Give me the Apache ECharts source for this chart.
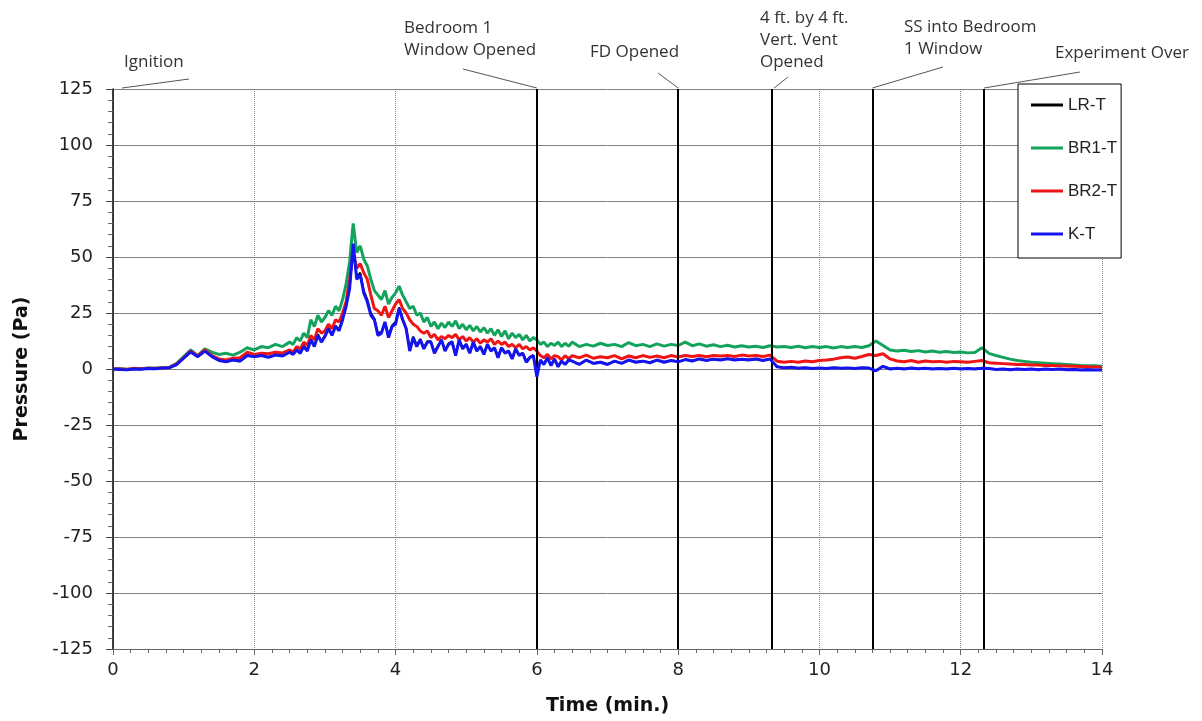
<!DOCTYPE html>
<html><head><meta charset="utf-8">
<script src="https://cdn.jsdelivr.net/npm/echarts@6.0.0/dist/echarts.min.js"></script>
<style>html,body{margin:0;padding:0;background:#fff}#c{width:1202px;height:721px}</style>
</head><body><div id="c"></div>
<script>
// time in minutes (finer sampling through the noisy 2.5 - 6.5 min stretch)
const time = [
0,0.1,0.2,0.3,0.4,0.5,0.6,0.7,0.8,0.9,
1,1.1,1.2,1.3,1.4,1.5,1.6,1.7,1.8,1.9,
2,2.1,2.2,2.3,2.4,
2.5,2.55,2.6,2.65,2.7,2.75,2.8,2.85,2.9,2.95,
3,3.05,3.1,3.15,3.2,3.25,3.3,3.35,3.4,3.45,
3.5,3.55,3.6,3.65,3.7,3.75,3.8,3.85,3.9,3.95,
4,4.05,4.1,4.15,4.2,4.25,4.3,4.35,4.4,4.45,
4.5,4.55,4.6,4.65,4.7,4.75,4.8,4.85,4.9,4.95,
5,5.05,5.1,5.15,5.2,5.25,5.3,5.35,5.4,5.45,
5.5,5.55,5.6,5.65,5.7,5.75,5.8,5.85,5.9,5.95,
6,6.05,6.1,6.15,6.2,6.25,6.3,6.35,6.4,6.45,
6.5,
6.6,6.7,6.8,6.9,
7,7.1,7.2,7.3,7.4,7.5,7.6,7.7,7.8,7.9,
8,8.1,8.2,8.3,8.4,8.5,8.6,8.7,8.8,8.9,
9,9.1,9.2,9.3,9.4,9.5,9.6,9.7,9.8,9.9,
10,10.1,10.2,10.3,10.4,10.5,10.6,10.7,10.8,10.9,
11,11.1,11.2,11.3,11.4,11.5,11.6,11.7,11.8,11.9,
12,12.1,12.2,12.3,12.4,12.5,12.6,12.7,12.8,12.9,
13,13.1,13.2,13.3,13.4,13.5,13.6,13.7,13.8,13.9,
14];

const lrT = [
0,-0.1,-0.2,0.1,0,0.2,0.2,0.4,0.6,2.1,
4.9,7.7,5.6,8,5.6,4,3.4,4.2,3.8,6.2,
5.6,6.2,5.4,6.4,6,
7.6,6.8,8.8,7.4,10.4,8.5,13.4,10.5,15.5,12.5,
15,18.4,15.5,19.4,17.6,22.5,28.5,36.5,55,41,
43,35,31,25,22.5,16,16.5,21,15,19.4,
21,27.5,22.5,18.5,9,14.5,10.6,13.4,9.6,12.4,
12.4,7.6,10.4,13,8.6,11.4,12.4,6.6,13,9.4,
11.2,7.6,12,8.4,10.2,7,11,8.4,9.6,5.6,
9.6,7.4,8.2,5,9,6.4,7.2,3.6,5.4,6.2,
-2,4,2.2,5,1.8,4.5,1.3,3.6,2.2,4,
3.6,
2.2,4,2.6,3.2,
2.2,3.6,2.6,4,3.1,3.6,2.9,4,3.1,3.8,
3.3,4.2,3.7,4.5,3.9,4.4,4.1,4.6,4.1,4.4,
4.1,4.5,3.9,4.5,1.1,0.6,0.8,0.4,0.6,0.3,
0.5,0.3,0.6,0.4,0.5,0.3,0.6,0.4,-0.6,1.1,
0.1,0.3,0.1,0.4,0.1,0.3,0.1,0.2,0.1,0.3,
0.1,0.2,0.1,0.3,0.2,-0.1,0,-0.2,0,-0.1,
0,-0.2,0,-0.1,0,-0.2,-0.1,-0.3,-0.2,-0.4,
-0.4];

const br1T = [
0,0.2,-0.2,0.3,0.1,0.4,0.3,0.6,0.8,2.5,
5.5,8.5,6,9,7.5,6.5,7,6.2,7.5,9.5,
8.5,10,9.5,11,10,
12,11,14,12.5,16,14,22,19,24,21,
23,26,24,28,26,31,38,48,65,52,
55,49,46,40,35,33,31,35,29,32,
34,37,33,30,27,28,24,25,21,23,
19,21,18,20.5,18.5,21,19,21.5,18,20,
17.5,19.5,17,19,16.5,18.5,16,18,15,17.5,
14.5,17,13.5,16,14,15.5,13,15,12.5,14,
13,11,12,10,11.5,10.5,12,10,11.5,10.2,
12,
10,11,10.2,11.5,
10.5,11,10,11.8,10.4,11,10,11.2,10.2,11,
10.5,12,10.4,11.2,10.2,10.8,10,10.6,9.8,10.4,
9.8,10.2,9.6,10.4,9.8,10,9.6,10.2,9.5,10,
9.6,10,9.4,10,9.6,10,9.6,10.4,12.5,10.5,
8.5,8,8.4,7.8,8.2,7.6,8,7.5,7.8,7.4,
7.6,7.2,7.4,9.5,7,6,5.2,4.4,3.8,3.4,
3,2.8,2.6,2.4,2.2,2,1.8,1.6,1.5,1.4,
1.2];

const br2T = [
0,0,-0.1,0.2,0.1,0.3,0.3,0.5,0.7,2.2,
5,8,5.8,8.5,6,4.5,4,4.8,5,7.5,
6.5,7,6.8,7.5,7.2,
8.5,7.5,10,9,12,10.5,15,13,18,16,
17,20,18,22,21,25,30,40,52,45,
47,43,40,33,27,26,24,28,23,26,
29,31,27,25,22,20,19,17,16,17,
14,15.5,13,14.5,13.5,15,14,15.5,13,14.5,
12.5,14,12,13.5,11.5,13,12,13.5,11,12.5,
11,12,10,11,9.5,11,9,10,8.5,9.5,
8,6,5,6.5,4.5,6,5.5,4,6,4.5,
6,
5,6.2,4.8,5.5,
5,6,4.5,5.8,5,6,5.2,5.8,5,6,
5.4,6,5.6,6,5.5,6,5.8,6,5.6,6.2,
5.8,6,5.6,6.2,3.5,3,3.4,3,3.6,3.2,
3.8,4,4.4,5,5.4,4.8,5.6,6.5,6,6.8,
4.5,3.6,3.2,3.8,3,3.6,3.2,3.4,3,3.4,
3.2,3,3.4,3.8,2.8,2.6,2.4,2.2,2,2,
1.8,1.8,1.6,1.6,1.4,1.3,1.2,1.1,1,0.9,
0.8];

const kT = [
0,-0.2,-0.3,0,-0.1,0.2,0.1,0.4,0.6,2,
4.8,7.6,5.5,8,5.5,3.8,3.2,4,3.5,6,
5.5,6,5.2,6.2,5.8,
7.5,6.5,8.5,7,10,8,13,10,15,12,
14.5,18,15,19,17,22,28,36,56,40,
42,34,30,24,22,15,16,21,14,19,
20,27,22,18,8,14,10,13,9,12,
12,7,10,13,8,11,12,6,13,9,
11,7,12,8,10,6.5,11,8,9.5,5,
9.5,7,8,4.5,9,6,7,3,5,6,
-3.5,4,2,5,1.5,4.5,1,3.5,2,4,
3.5,
2,4,2.5,3,
2,3.5,2.5,4,3,3.5,2.8,4,3,3.8,
3.2,4.2,3.6,4.5,3.8,4.4,4,4.6,4,4.4,
4,4.5,3.8,4.5,1,0.5,0.8,0.3,0.6,0.2,
0.5,0.2,0.6,0.3,0.5,0.2,0.6,0.4,-0.8,1.2,
0,0.3,0,0.4,0.1,0.3,0,0.2,0,0.3,
0,0.2,0,0.3,0.2,-0.2,0,-0.3,0,-0.2,
0,-0.3,0,-0.2,0,-0.3,-0.2,-0.4,-0.3,-0.5,
-0.5];

const seriesNames = ['LR-T', 'BR1-T', 'BR2-T', 'K-T'];
const seriesColors = ['#000000', '#14a35c', '#f01414', '#1414f0'];
const seriesValues = [lrT, br1T, br2T, kT];

const eventTimes = [6, 8, 9.33, 10.75, 12.33];
const annotationTexts = ['Ignition', 'Bedroom 1\nWindow Opened', 'FD Opened',
  '4 ft. by 4 ft.\nVert. Vent\nOpened', 'SS into Bedroom\n1 Window', 'Experiment Over'];
const annotationTimes = [0, 6, 8, 9.33, 10.75, 12.33];

const xMin = 0, xMax = 14, xStep = 2;
const yMin = -125, yMax = 125, yStep = 25;

// label layout (pixels) for the callouts
const calloutLayout = [
  {x: 124, y: 51, lx: 189, ly: 79, dx: 9},
  {x: 404, y: 17, lx: 463, ly: 69, dx: 0},
  {x: 590, y: 41, lx: 658, ly: 73, dx: 0},
  {x: 760, y: 7,  lx: 788, ly: 77, dx: 2},
  {x: 904, y: 16, lx: 943, ly: 67, dx: 0},
  {x: 1055, y: 42, lx: 1080, ly: 72, dx: 0}
];

const chart = echarts.init(document.getElementById('c'), null, {renderer: 'canvas'});

const series = seriesNames.map((name, i) => ({
  name: name,
  type: 'line',
  data: time.map((t, k) => [t, seriesValues[i][k]]),
  showSymbol: false,
  symbol: 'none',
  color: seriesColors[i],
  lineStyle: {width: i === 0 ? 2 : 3, color: seriesColors[i]},
  z: 2 + i,
  animation: false
}));

series.push({
  name: 'events',
  type: 'line',
  data: [],
  z: 10,
  markLine: {
    silent: true,
    symbol: ['none', 'none'],
    label: {show: false},
    lineStyle: {color: '#000', width: 2, type: 'solid'},
    data: eventTimes.map(t => ({xAxis: t}))
  }
});

const axisFont = 'DejaVu Sans';

chart.setOption({
  animation: false,
  backgroundColor: '#ffffff',
  grid: {left: 113, right: 100, top: 89, bottom: 72, containLabel: false},
  legend: {
    data: seriesNames,
    orient: 'vertical',
    left: 1018, top: 84,
    padding: [11, 4, 14, 13],
    itemWidth: 32, itemHeight: 3, itemGap: 23,
    icon: 'rect',
    backgroundColor: '#ffffff',
    borderColor: '#000', borderWidth: 1,
    textStyle: {fontFamily: 'Liberation Sans', fontSize: 17, lineHeight: 20, color: '#222'},
    z: 20
  },
  xAxis: {
    type: 'value', min: xMin, max: xMax, interval: xStep,
    name: 'Time (min.)', nameLocation: 'middle', nameGap: 48,
    nameTextStyle: {fontFamily: axisFont, fontWeight: 'bold', fontSize: 19, color: '#111'},
    axisLine: {onZero: false, lineStyle: {color: '#666', width: 1}},
    axisTick: {show: true, inside: false, length: 6, lineStyle: {color: '#666'}},
    minorTick: {show: true, splitNumber: 8, length: 4, lineStyle: {color: '#666'}},
    axisLabel: {fontFamily: axisFont, fontSize: 18, color: '#222', margin: 12},
    splitLine: {show: true, lineStyle: {color: '#888', type: 'dotted', width: 1}}
  },
  yAxis: {
    type: 'value', min: yMin, max: yMax, interval: yStep,
    name: 'Pressure (Pa)', nameLocation: 'middle', nameGap: 81,
    nameTextStyle: {fontFamily: axisFont, fontWeight: 'bold', fontSize: 19, color: '#111'},
    axisLine: {show: true, onZero: false, lineStyle: {color: '#000', width: 1.5}},
    axisTick: {show: true, inside: false, length: 7, lineStyle: {color: '#444'}},
    minorTick: {show: true, splitNumber: 5, length: 5, lineStyle: {color: '#666'}},
    axisLabel: {fontFamily: axisFont, fontSize: 18, color: '#222', margin: 20},
    splitLine: {show: true, lineStyle: {color: '#808080', type: 'solid', width: 1}}
  },
  series: series
});

// callouts: text above the plot with leader lines to the event lines
const graphics = [];
annotationTexts.forEach((txt, i) => {
  const L = calloutLayout[i];
  const p = chart.convertToPixel({gridIndex: 0}, [annotationTimes[i], yMax]);
  graphics.push({
    type: 'text', x: L.x, y: L.y, z: 30,
    style: {text: txt, font: '17px "Open Sans"', fill: '#333', lineHeight: 22,
            textAlign: 'left', textVerticalAlign: 'top'}
  });
  graphics.push({
    type: 'line', z: 30,
    shape: {x1: L.lx, y1: L.ly, x2: p[0] + L.dx, y2: p[1] - 1},
    style: {stroke: '#555', lineWidth: 1}
  });
});
chart.setOption({graphic: graphics});
</script>
</body></html>
